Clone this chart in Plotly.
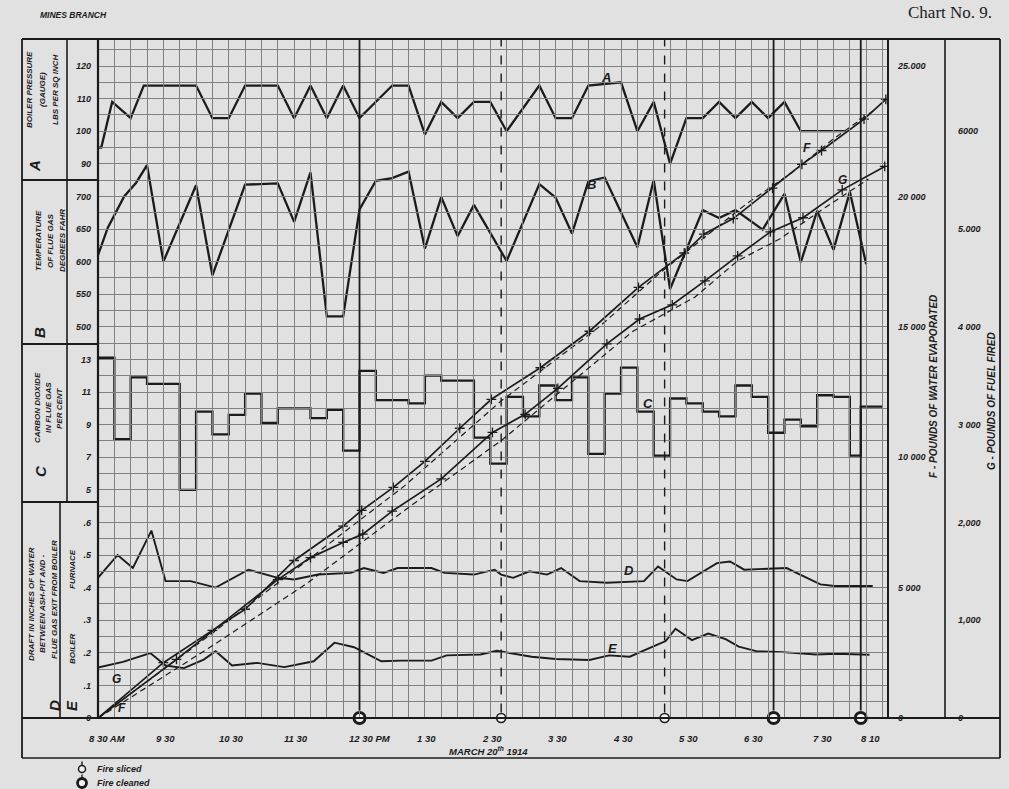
import plotly.graph_objects as go

DAY = "1914-03-20 "

# ---------------- data ----------------
# A  boiler pressure (gauge), lbs per sq inch
A_TIME = ["08:30", "08:33", "08:43", "09:00", "09:12", "10:00", "10:15", "10:30", "10:45", "11:15",
          "11:30", "11:45", "12:00", "12:15", "12:30", "12:45", "13:00", "13:15", "13:30", "13:45",
          "14:00", "14:15", "14:30", "14:45", "15:15", "15:30", "15:45", "16:00", "16:30", "16:45",
          "17:00", "17:15", "17:30", "17:45", "18:00", "18:15", "18:30", "18:45", "19:00", "19:15",
          "19:45", "19:55"]
A_PRESSURE = [95, 95, 109, 104, 114, 114, 104, 104, 114, 114,
              104, 114, 104, 114, 104, 109, 114, 114, 99, 109,
              104, 109, 109, 100, 114, 104, 104, 114, 115, 100,
              109, 90, 104, 104, 109, 104, 109, 104, 109, 100,
              100, 100]

# B  temperature of flue gas, degrees Fahr
B_TIME = ["08:30", "08:39", "08:54", "09:05", "09:15", "09:30", "10:00", "10:15", "10:45", "11:15",
          "11:30", "11:45", "12:00", "12:15", "12:30", "12:45", "13:00", "13:15", "13:30", "13:45",
          "14:00", "14:15", "14:45", "15:15", "15:30", "15:45", "16:00", "16:15", "16:45", "17:00",
          "17:15", "17:45", "18:00", "18:15", "18:40", "19:00", "19:15", "19:30", "19:45", "20:00",
          "20:15"]
B_TEMP = [610, 652, 700, 721, 748, 600, 717, 579, 718, 720,
          661, 737, 516, 516, 680, 724, 728, 738, 620, 699,
          639, 687, 601, 719, 698, 643, 723, 729, 622, 725,
          558, 679, 667, 679, 649, 704, 599, 678, 618, 707,
          596]

# C  carbon dioxide in flue gas, per cent (held until next reading)
C_TIME = ["08:30", "08:45", "09:00", "09:15", "09:45", "10:00", "10:15", "10:30", "10:45", "11:00",
          "11:15", "11:45", "12:00", "12:15", "12:30", "12:45", "13:15", "13:30", "13:45", "14:15",
          "14:30", "14:45", "15:00", "15:15", "15:30", "15:45", "16:00", "16:15", "16:30", "16:45",
          "17:00", "17:15", "17:30", "17:45", "18:00", "18:15", "18:30", "18:45", "19:00", "19:15",
          "19:30", "19:45", "20:00", "20:10", "20:30"]
C_CO2 = [13.1, 8.1, 11.9, 11.5, 5.0, 9.8, 8.4, 9.6, 10.9, 9.1,
         10.0, 9.4, 9.9, 7.4, 12.3, 10.5, 10.3, 12.0, 11.7, 8.2,
         6.6, 10.7, 9.5, 11.4, 10.5, 11.9, 7.2, 10.9, 12.5, 9.8,
         7.1, 10.6, 10.3, 9.8, 9.5, 11.4, 10.7, 8.5, 9.3, 8.9,
         10.8, 10.7, 7.1, 10.1, 10.1]

# D  draft, boiler (inches of water)
D_TIME = ["08:30", "08:48", "09:02", "09:19", "09:32", "09:55", "10:18", "10:48", "11:15", "11:30",
          "11:52", "12:22", "12:34", "12:52", "13:05", "13:36", "13:48", "14:15", "14:34", "14:40",
          "14:51", "15:06", "15:22", "15:35", "15:52", "16:17", "16:51", "17:04", "17:21", "17:31",
          "17:58", "18:10", "18:23", "19:02", "19:11", "19:33", "19:46", "20:21"]
D_DRAFT = [0.43, 0.50, 0.46, 0.575, 0.42, 0.42, 0.40, 0.455, 0.43, 0.425,
           0.44, 0.445, 0.46, 0.445, 0.46, 0.46, 0.445, 0.44, 0.455, 0.44,
           0.43, 0.45, 0.44, 0.46, 0.42, 0.415, 0.42, 0.465, 0.425, 0.42,
           0.475, 0.48, 0.455, 0.46, 0.445, 0.41, 0.405, 0.405]

# E  draft, furnace (inches of water)
E_TIME = ["08:30", "08:53", "09:18", "09:32", "09:49", "10:07", "10:18", "10:33", "10:56", "11:21",
          "11:48", "12:07", "12:25", "12:50", "13:08", "13:36", "13:50", "14:21", "14:36", "15:08",
          "15:30", "16:01", "16:19", "16:38", "16:56", "17:11", "17:20", "17:35", "17:50", "18:06",
          "18:18", "18:34", "18:58", "19:29", "19:48", "20:18"]
E_DRAFT = [0.155, 0.172, 0.199, 0.161, 0.153, 0.179, 0.205, 0.161, 0.169, 0.156,
           0.174, 0.231, 0.217, 0.174, 0.176, 0.176, 0.192, 0.195, 0.206, 0.188,
           0.181, 0.178, 0.192, 0.188, 0.214, 0.236, 0.274, 0.239, 0.259, 0.242,
           0.219, 0.205, 0.202, 0.195, 0.197, 0.194]

# F  pounds of water evaporated (cumulative): solid and dashed curves
F_TIME = ["08:30", "09:30", "10:15", "10:45", "11:30", "12:15", "12:32", "13:01", "13:30", "14:02",
          "14:31", "15:16", "16:01", "16:46", "17:28", "17:46", "18:13", "18:49", "19:16", "19:34",
          "20:13", "20:33"]
F_WATER = [0, 2120, 3360, 4170, 6040, 7360, 7960, 8840, 9840, 11110,
           12220, 13430, 14830, 16510, 17830, 18550, 19150, 20320, 21230, 21760,
           22960, 23720]
FD_TIME = ["08:30", "10:11", "11:41", "13:11", "14:40", "16:10", "17:07", "18:25", "19:07", "19:46", "20:24"]
FD_WATER = [0, 3130, 6010, 8890, 12160, 15000, 17110, 19710, 20920, 22240, 23360]

# G  pounds of fuel fired (cumulative): solid and dashed curves
G_TIME = ["08:30", "09:42", "11:15", "11:45", "12:15", "12:33", "13:00", "13:45", "14:32", "15:02",
          "15:32", "16:17", "16:47", "17:17", "17:47", "18:17", "18:47", "19:17", "19:53", "20:32"]
G_FUEL = [0, 600, 1415, 1640, 1795, 1880, 2115, 2445, 2920, 3105,
          3370, 3825, 4080, 4225, 4470, 4725, 4970, 5115, 5400, 5640]
GD_TIME = ["08:30", "10:11", "11:41", "13:11", "14:41", "16:41", "17:38", "18:17", "18:56", "19:36", "20:17"]
GD_FUEL = [0, 710, 1370, 2120, 2845, 3955, 4305, 4675, 4900, 5210, 5510]

# fire events
SLICED = ["14:40", "17:10"]
CLEANED = ["12:30", "18:50", "20:10"]

# axis tick labels
X_LABEL_TIME = ["08:30", "09:30", "10:30", "11:30", "12:30", "13:30", "14:30", "15:30", "16:30",
                "17:30", "18:30", "19:30", "20:10"]
X_LABEL_TEXT = ["8 30 AM", "9 30", "10 30", "11 30", "12 30 PM", "1 30", "2 30", "3 30", "4 30",
                "5 30", "6 30", "7 30", "8 10"]
A_TICKS = [90, 100, 110, 120]
B_TICKS = [500, 550, 600, 650, 700]
C_TICKS = [5, 7, 9, 11, 13]
D_TICKS = [0, 0.1, 0.2, 0.3, 0.4, 0.5, 0.6]
D_TICK_TEXT = ["0", ".1", ".2", ".3", ".4", ".5", ".6"]
F_TICKS = [0, 5000, 10000, 15000, 20000, 25000]
F_TICK_TEXT = ["0", "5 000", "10 000", "15 000", "20 000", "25.000"]
G_TICKS = [0, 1000, 2000, 3000, 4000, 5000, 6000]
G_TICK_TEXT = ["0", "1,000", "2,000", "3 000", "4 000", "5.000", "6000"]

# ---------------- styling / layout ----------------
INK = "#1b1b1b"
PAPER = "#e1e1e1"
GRID = "#808080"
FONT = "Liberation Sans"

H, W = 679.0, 902.0
LEFT, TOP = 98, 39
BASE = TOP + H
GS = 16.3  # grid square in px


def xp(px):
    return (px - LEFT) / W


def yp(py):
    return (BASE - py) / H


def ts(times):
    return [DAY + t for t in times]


fig = go.Figure()


def add_line(x, y, axis, width=2.2, dash="solid", shape="linear", markers=False):
    kw = dict(x=ts(x), y=y, yaxis=axis, line=dict(color=INK, width=width, dash=dash, shape=shape),
              showlegend=False, hoverinfo="skip")
    if markers:
        kw["mode"] = "lines+markers"
        kw["marker"] = dict(symbol="cross-thin", size=7, line=dict(color=INK, width=1.3))
    else:
        kw["mode"] = "lines"
    fig.add_trace(go.Scatter(**kw))


add_line(A_TIME, A_PRESSURE, "y2", 2.3)
add_line(B_TIME, B_TEMP, "y3", 2.3)
add_line(C_TIME, C_CO2, "y4", 2.3, shape="hv")
add_line(D_TIME, D_DRAFT, "y5", 1.9)
add_line(E_TIME, E_DRAFT, "y5", 1.9)
add_line(FD_TIME, FD_WATER, "y6", 1.2, dash="6px,4px")
add_line(GD_TIME, GD_FUEL, "y7", 1.2, dash="6px,4px")
add_line(F_TIME, F_WATER, "y6", 1.7, markers=True)
add_line(G_TIME, G_FUEL, "y7", 1.7, markers=True)

SLICED_MARK = dict(symbol="circle", size=9, color="#f3f3f3", line=dict(color=INK, width=1.6))
CLEANED_MARK = dict(symbol="circle", size=11, color="#f3f3f3", line=dict(color=INK, width=3))
fig.add_trace(go.Scatter(x=ts(SLICED), y=[0] * len(SLICED), yaxis="y5", mode="markers",
                         name="Fire sliced", cliponaxis=False, hoverinfo="skip",
                         showlegend=False, marker=SLICED_MARK))
fig.add_trace(go.Scatter(x=ts(CLEANED), y=[0] * len(CLEANED), yaxis="y5", mode="markers",
                         name="Fire cleaned", cliponaxis=False, hoverinfo="skip",
                         showlegend=False, marker=CLEANED_MARK))

shapes = []
# event lines start at the top of their ring and run to the top of the chart
for t in SLICED:
    shapes.append(dict(type="line", xref="x", yref="paper", x0=DAY + t, x1=DAY + t,
                       y0=5.5 / H, y1=1, layer="above",
                       line=dict(color=INK, width=1.4, dash="dash")))
for t in CLEANED:
    shapes.append(dict(type="line", xref="x", yref="paper", x0=DAY + t, x1=DAY + t,
                       y0=7.5 / H, y1=1, layer="above", line=dict(color=INK, width=1.8)))


def frame(x0, y0, x1, y1, w=1.6):
    shapes.append(dict(type="line", xref="paper", yref="paper", x0=xp(x0), x1=xp(x1),
                       y0=yp(y0), y1=yp(y1), line=dict(color=INK, width=w)))


frame(22, TOP, 1000, TOP, 2.2)          # top
frame(22, TOP, 22, 758, 1.8)            # left border
frame(1000, TOP, 1000, 758, 1.8)        # right border
frame(22, 758, 1000, 758, 1.6)          # bottom
frame(22, BASE, 1000, BASE, 2.2)        # base line
frame(LEFT, TOP, LEFT, BASE, 2.2)       # plot left edge
frame(888, TOP, 888, BASE, 2.0)         # plot right edge
frame(945, TOP, 945, BASE, 1.6)         # F / G divider
frame(67, TOP, 67, 502, 1.6)            # title / tick divider
frame(60, 502, 60, BASE, 1.6)           # D / E divider
for yb in (180, 344, 502):
    frame(22, yb, LEFT, yb, 1.8)        # panel borders


# hand-drawn legend keys (ring on a short stem)
def key(cx, cy, r, lw):
    shapes.append(dict(type="line", xref="paper", yref="paper", x0=xp(cx), x1=xp(cx),
                       y0=yp(cy - r), y1=yp(cy - r - 4), line=dict(color=INK, width=1.4)))
    shapes.append(dict(type="circle", xref="paper", yref="paper", x0=xp(cx - r), x1=xp(cx + r),
                       y0=yp(cy + r), y1=yp(cy - r), fillcolor="#f3f3f3",
                       line=dict(color=INK, width=lw)))


key(82, 769, 3.5, 1.5)
key(82, 783, 4.5, 2.8)

TICKFONT = dict(family=FONT, size=9, color=INK, weight="bold", style="italic")

axis_common = dict(showgrid=False, zeroline=False, ticks="", showline=False, fixedrange=True,
                   tickfont=TICKFONT, ticklabelstandoff=6)

fig.update_layout(
    width=1009, height=789, autosize=False,
    margin=dict(l=LEFT, r=1009 - 1000, t=TOP, b=789 - BASE),
    paper_bgcolor=PAPER, plot_bgcolor="rgba(0,0,0,0)", showlegend=False,
    xaxis=dict(type="date", domain=[0, xp(888)], range=[DAY + "08:30", DAY + "20:35"],
               showgrid=True, gridcolor=GRID, gridwidth=1, dtick=15 * 60 * 1000,
               tick0=DAY + "08:30", showticklabels=False, ticks="", zeroline=False,
               showline=False, fixedrange=True),
    yaxis=dict(domain=[0, 1], range=[0, 1], showgrid=False, showticklabels=False, ticks="",
               zeroline=False, fixedrange=True),
    yaxis2=dict(anchor="x", domain=[538 / H, 1],
                range=[90 + 5 * (538 / GS - 34), 90 + 5 * (H / GS - 34)],
                tickvals=A_TICKS, **axis_common),
    yaxis3=dict(anchor="x", domain=[374 / H, 1],
                range=[500 + 25 * (374 / GS - 24), 500 + 25 * (H / GS - 24)],
                tickvals=B_TICKS, **axis_common),
    yaxis4=dict(anchor="x", domain=[216 / H, 374 / H],
                range=[5 + (216 / GS - 14), 5 + (374 / GS - 14)],
                tickvals=C_TICKS, **axis_common),
    yaxis5=dict(anchor="x", domain=[0, 216 / H], range=[0, 0.05 * 216 / GS],
                tickvals=D_TICKS, ticktext=D_TICK_TEXT, **axis_common),
    # F scale also carries the paper's square grid (8 squares per 5 000 lbs)
    yaxis6=dict(overlaying="y", anchor="free", position=xp(888), side="right",
                range=[0, 625 * H / GS], tickvals=F_TICKS, ticktext=F_TICK_TEXT,
                showgrid=True, gridcolor=GRID, gridwidth=1,
                minor=dict(tickmode="linear", tick0=0, dtick=625, showgrid=True,
                           gridcolor=GRID, gridwidth=1, ticks=""),
                zeroline=False, ticks="", fixedrange=True,
                tickfont=TICKFONT, ticklabelstandoff=9),
    yaxis7=dict(overlaying="y", anchor="free", position=xp(945), side="right",
                range=[0, 1000 / 6 * H / GS], tickvals=G_TICKS, ticktext=G_TICK_TEXT,
                showgrid=False, zeroline=False, ticks="", fixedrange=True,
                tickfont=TICKFONT, ticklabelstandoff=12),
    shapes=shapes,
)

ann = []


def note(text, px, py, size=8.5, angle=0, family=FONT, bold=True, **kw):
    f = dict(family=family, size=size, color=INK)
    if bold:
        f.update(weight="bold", style="italic")
    ann.append(dict(text=text, x=xp(px), y=yp(py), xref="paper", yref="paper", showarrow=False,
                    textangle=angle, font=f, xanchor=kw.get("xanchor", "center"),
                    yanchor=kw.get("yanchor", "middle")))


# x-axis labels (data coordinates)
shift = {"8 30 AM": -11, "12 30 PM": -13, "8 10": 10, "7 30": 5}
for t, lab in zip(X_LABEL_TIME, X_LABEL_TEXT):
    anchor = "left" if lab.endswith("M") else "center"
    ann.append(dict(text=lab, x=DAY + t, y=yp(739), xref="x", yref="paper", showarrow=False,
                    xanchor=anchor, yanchor="middle", xshift=shift.get(lab, 2),
                    font=dict(family=FONT, size=9.5, color=INK, weight="bold", style="italic")))

note("MARCH 20<sup>th</sup> 1914", 488, 751, 9.5)
note("MINES BRANCH", 73, 15, 8.5)
note("Chart No. 9.", 950, 13, 17, family="Liberation Serif", bold=False)
note("Fire sliced", 95, 769, 9, xanchor="left")
note("Fire cleaned", 95, 783, 9, xanchor="left")

# left column titles
for txt, x, y in [("BOILER PRESSURE", 30, 90), ("(GAUGE)", 43, 90), ("LBS PER SQ INCH", 56, 90),
                  ("TEMPERATURE", 38, 241), ("OF FLUE GAS", 50, 241), ("DEGREES FAHR", 62, 241),
                  ("CARBON DIOXIDE", 37, 408), ("IN FLUE GAS", 48, 408), ("PER CENT", 59, 408),
                  ("DRAFT IN INCHES OF WATER", 31, 604), ("BETWEEN ASH-PIT AND -", 42, 604),
                  ("FLUE GAS EXIT FROM BOILER", 54, 600), ("BOILER", 72, 649), ("FURNACE", 72, 569)]:
    note(txt, x, y, 8, angle=-90)
for txt, x, y in [("A", 34, 166), ("B", 39, 333), ("C", 40, 471), ("D", 54, 706), ("E", 71, 706)]:
    note(txt, x, y, 15, angle=-90)

# right column titles
note("F - POUNDS OF WATER EVAPORATED", 934, 387, 10, angle=-90)
note("G - POUNDS OF FUEL FIRED", 991, 401, 10, angle=-90)

# curve letters (data coordinates)
for txt, t, v, ax, size in [("A", "16:16", 116.5, "y2", 13), ("B", "16:03", 718, "y3", 13),
                            ("C", "16:55", 10.3, "y4", 13), ("D", "16:37", 0.451, "y5", 13),
                            ("E", "16:22", 0.213, "y5", 13), ("F", "19:21", 21860, "y6", 12),
                            ("G", "19:53", 5504, "y7", 12), ("G", "08:47", 395, "y7", 12),
                            ("F", "08:52", 372, "y6", 12)]:
    ann.append(dict(text=txt, x=DAY + t, y=v, xref="x", yref=ax, showarrow=False,
                    font=dict(family=FONT, size=size, color=INK, weight="bold", style="italic")))

fig.update_layout(annotations=ann)
fig.write_html("out.html", config={"displayModeBar": False},
               post_script="document.body.style.margin='0px';")
